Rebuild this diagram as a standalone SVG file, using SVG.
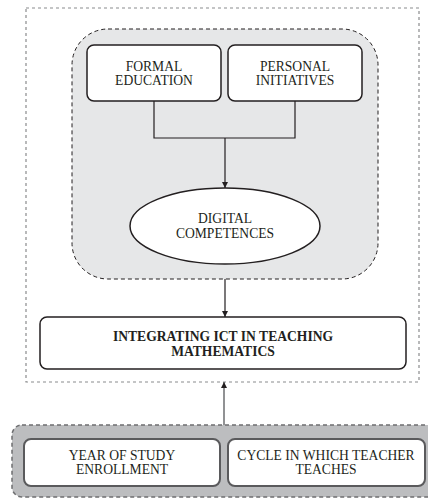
<svg xmlns="http://www.w3.org/2000/svg" width="428" height="498" viewBox="0 0 428 498">
<style>
.lbl{font-family:'Liberation Serif','Times New Roman','DejaVu Serif',serif;font-size:13.6px;fill:#231f20;text-anchor:middle}
.b{font-weight:bold}
.box{fill:#fff;stroke:#231f20;stroke-width:1.5}
.gbox{fill:#fff;stroke:#5a5a5c;stroke-width:2}
.conn{fill:none;stroke:#231f20;stroke-width:1.2}
</style>
<defs>
<marker id="ah" viewBox="0 0 10 10" refX="10" refY="5" markerWidth="6" markerHeight="9" markerUnits="userSpaceOnUse" orient="auto">
<path d="M0,0 L10,5 L0,10 z" fill="#231f20"/>
</marker>
</defs>
<rect width="428" height="498" fill="#fff"/>
<g id="outer-frame">
<rect x="26" y="8" width="393" height="374" fill="none" stroke="#8a8b8d" stroke-width="1.2" stroke-dasharray="3,3"/>
</g>
<g id="competence-region">
<rect x="72" y="29" width="306" height="250" rx="36" fill="#e6e7e8" stroke="#231f20" stroke-width="1" stroke-dasharray="4,3"/>
</g>
<g id="context-region">
<rect x="12" y="425" width="430" height="72" rx="10" fill="#bcbdbf" stroke="#6d6e70" stroke-width="1.5" stroke-dasharray="4,3"/>
</g>
<g id="connectors">
<path class="conn" d="M154,101 V138 H295 V101"/>
<path class="conn" d="M225,138 V188" marker-end="url(#ah)"/>
<path class="conn" d="M225,279 V317" marker-end="url(#ah)"/>
<path d="M224,425 V382" fill="none" stroke="#6d6e70" stroke-width="1.5" marker-end="url(#ah)"/>
</g>
<g id="formal-education">
<rect class="box" x="87" y="45" width="134" height="56" rx="7"/>
<text class="lbl" x="154" y="71" font-family="Liberation Serif, serif">FORMAL</text>
<text class="lbl" x="154" y="85" font-family="Liberation Serif, serif">EDUCATION</text>
</g>
<g id="personal-initiatives">
<rect class="box" x="228" y="45" width="134" height="56" rx="7"/>
<text class="lbl" x="295" y="71" font-family="Liberation Serif, serif">PERSONAL</text>
<text class="lbl" x="295" y="85" font-family="Liberation Serif, serif">INITIATIVES</text>
</g>
<g id="digital-competences">
<ellipse class="box" cx="225" cy="226" rx="95" ry="38"/>
<text class="lbl" x="225" y="223" font-family="Liberation Serif, serif">DIGITAL</text>
<text class="lbl" x="225" y="238" font-family="Liberation Serif, serif">COMPETENCES</text>
</g>
<g id="integrating-ict">
<rect class="box" x="40" y="317" width="366" height="52" rx="7"/>
<text class="lbl b" x="223" y="341" font-family="Liberation Serif, serif">INTEGRATING ICT IN TEACHING</text>
<text class="lbl b" x="223" y="356" font-family="Liberation Serif, serif">MATHEMATICS</text>
</g>
<g id="year-of-study">
<rect class="gbox" x="24" y="439" width="196" height="47" rx="7"/>
<text class="lbl" x="122" y="460" font-family="Liberation Serif, serif">YEAR OF STUDY</text>
<text class="lbl" x="122" y="474" font-family="Liberation Serif, serif">ENROLLMENT</text>
</g>
<g id="cycle">
<rect class="gbox" x="228" y="439" width="197" height="47" rx="7"/>
<text class="lbl" x="326" y="460" font-family="Liberation Serif, serif">CYCLE IN WHICH TEACHER</text>
<text class="lbl" x="326" y="474" font-family="Liberation Serif, serif">TEACHES</text>
</g>
</svg>
